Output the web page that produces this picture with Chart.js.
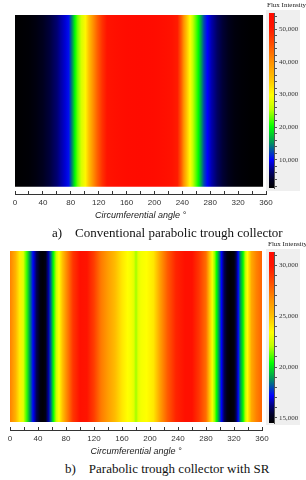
<!DOCTYPE html>
<html>
<head>
<meta charset="utf-8">
<script src="https://cdn.jsdelivr.net/npm/chart.js@4.4.1/dist/chart.umd.min.js"></script>
<style>
  body { margin: 0; background: #fff; width: 306px; height: 480px; position: relative; overflow: hidden; }
  canvas, .panel, .lbl { position: absolute; }
  .panel { background: #efefef; }
  .lbl { font-family: "Liberation Serif", serif; color: #222; white-space: pre; }
  .flux { font-size: 7px; }
  .cap { font-size: 13px; color: #111; }
</style>
</head>
<body>
<div class="panel" style="left:266px;top:10px;width:34px;height:181px"></div>
<div class="panel" style="left:266px;top:249px;width:34px;height:176px"></div>
<canvas id="heat1" style="left:0;top:0" width="306" height="225"></canvas>
<canvas id="bar1" style="left:266px;top:0" width="38" height="195"></canvas>
<canvas id="heat2" style="left:0;top:240px" width="306" height="221"></canvas>
<canvas id="bar2" style="left:266px;top:240px" width="38" height="190"></canvas>
<div class="lbl flux" style="left:267px;top:1px">Flux Intensity</div>
<div class="lbl flux" style="left:268px;top:240px">Flux Intensity</div>
<div class="lbl cap" style="left:52px;top:225px">a)    Conventional parabolic trough collector</div>
<div class="lbl cap" style="left:65px;top:461px">b)    Parabolic trough collector with SR</div>
<script>
// a) conventional collector: flux vs circumferential angle
let angles1 = [0, 10, 20, 30, 40, 50, 60, 66, 72, 77, 82, 86, 90, 95, 101, 106, 112, 118, 125, 132, 145, 160, 180, 200, 215, 225, 233, 238, 242, 246, 251, 255, 259, 263, 267, 271, 276, 282, 290, 298, 306, 315, 325, 340, 356];
let flux1 = [1500, 1600, 1800, 2500, 3500, 4800, 6500, 7800, 9000, 10500, 15000, 20000, 23500, 27000, 30500, 35000, 40000, 44000, 48000, 51000, 53000, 54000, 54500, 54000, 53000, 51500, 50000, 45000, 40000, 35000, 30000, 26000, 23000, 20000, 16000, 12500, 10000, 8000, 6000, 4500, 3200, 2300, 1800, 1500, 1500];

// b) collector with SR
let angles2 = [0, 8, 14, 19, 24, 28, 33, 38, 43, 47, 51, 55, 58, 62, 66, 70, 75, 80, 90, 100, 110, 120, 130, 140, 150, 160, 168, 173, 177, 180, 183, 187, 195, 205, 214, 225, 237, 250, 260, 270, 280, 285, 289, 292, 295, 299, 302, 306, 310, 315, 320, 323, 326, 329, 333, 336, 339, 345, 352, 360];
let flux2 = [27000, 25500, 23800, 22800, 20800, 19000, 17200, 15800, 14800, 14600, 15000, 16500, 18200, 20400, 22200, 23400, 25000, 26600, 29000, 30500, 30000, 28800, 27200, 26200, 25200, 24000, 23400, 23200, 22800, 21800, 22800, 23200, 23400, 24000, 26000, 28000, 29500, 30500, 30500, 29000, 27500, 25000, 23200, 21800, 20400, 18600, 17200, 15800, 14900, 14500, 14800, 15800, 17200, 18800, 20400, 22000, 23400, 25800, 27000, 27800];

let angleLabels = [0, 40, 80, 120, 160, 200, 240, 280, 320, 360];
let range1 = [1400, 55000];
let range2 = [14500, 31300];
let barLabels1 = [10000, 20000, 30000, 40000, 50000];
let barLabels2 = [15000, 20000, 25000, 30000];

// colour map (black -> blue -> green -> yellow -> red)
let cmap = [
    [0.00, [0, 0, 0]],
    [0.05, [0, 0, 40]],
    [0.10, [0, 0, 120]],
    [0.16, [0, 0, 255]],
    [0.26, [0, 150, 90]],
    [0.35, [0, 255, 0]],
    [0.45, [190, 255, 0]],
    [0.53, [255, 255, 0]],
    [0.62, [255, 195, 0]],
    [0.72, [255, 145, 0]],
    [0.82, [255, 80, 0]],
    [0.92, [255, 20, 0]],
    [1.00, [255, 10, 0]]
];

function colorAt(t) {
    t = Math.max(0, Math.min(1, t));
    for (let i = 1; i < cmap.length; i++) {
        if (t <= cmap[i][0]) {
            let a = cmap[i - 1], b = cmap[i];
            let f = (t - a[0]) / (b[0] - a[0]);
            let c = a[1].map((v, k) => Math.round(v + (b[1][k] - v) * f));
            return "rgb(" + c.join(",") + ")";
        }
    }
    return "rgb(255,10,0)";
}

function heatFill(angles, flux, range) {
    return function (ctx) {
        let chart = ctx.chart;
        let area = chart.chartArea;
        if (!area) return "rgba(0,0,0,0)";
        let x = chart.scales.x;
        let g = chart.ctx.createLinearGradient(area.left, 0, area.right, 0);
        angles.forEach((a, i) => {
            let off = (x.getPixelForValue(a) - area.left) / (area.right - area.left);
            g.addColorStop(Math.max(0, Math.min(1, off)), colorAt((flux[i] - range[0]) / (range[1] - range[0])));
        });
        return g;
    };
}

// tick list with minor steps between labelled values
function tickList(lo, hi, step) {
    let t = [];
    for (let v = Math.ceil(lo / step) * step; v <= hi; v += step) t.push({ value: v });
    return t;
}

function heatChart(id, angles, flux, range, pad, gap) {
    new Chart(id, {
        type: "line",
        data: {
            datasets: [{
                data: angles.map(a => ({ x: a, y: 1 })),
                fill: { value: gap },
                backgroundColor: heatFill(angles, flux, range),
                borderWidth: 0,
                pointRadius: 0,
                tension: 0
            }]
        },
        options: {
            animation: false,
            responsive: false,
            layout: { padding: pad },
            plugins: { legend: { display: false }, tooltip: { enabled: false } },
            scales: {
                y: { display: false, min: 0, max: 1 },
                x: {
                    type: "linear", min: 0, max: 360,
                    afterBuildTicks: s => { s.ticks = tickList(0, 360, 20); },
                    afterFit: s => { s.height = 31; },
                    border: { display: true, color: "#333", width: 1 },
                    grid: { drawOnChartArea: false, tickLength: -3, color: "#333" },
                    ticks: {
                        autoSkip: false, maxRotation: 0, padding: 7,
                        color: "#333", font: { family: "Liberation Sans", size: 8 },
                        callback: v => angleLabels.includes(v) ? String(v) : ""
                    },
                    title: {
                        display: true, text: "Circumferential angle °", color: "#222",
                        font: { family: "Liberation Sans", size: 9, style: "italic" },
                        padding: { top: 0, bottom: 4 }
                    }
                }
            }
        }
    });
}

function colorBar(id, range, step, labels, pad) {
    new Chart(id, {
        type: "bar",
        data: {
            labels: [""],
            datasets: [{
                data: [range],
                barPercentage: 1, categoryPercentage: 1,
                backgroundColor: ctx => {
                    let chart = ctx.chart;
                    if (!chart.chartArea) return "rgba(0,0,0,0)";
                    let y = chart.scales.y;
                    let g = chart.ctx.createLinearGradient(0, y.getPixelForValue(range[0]), 0, y.getPixelForValue(range[1]));
                    cmap.forEach(s => g.addColorStop(s[0], colorAt(s[0])));
                    return g;
                }
            }]
        },
        options: {
            animation: false,
            responsive: false,
            layout: { padding: pad },
            plugins: { legend: { display: false }, tooltip: { enabled: false } },
            scales: {
                x: { display: false },
                y: {
                    position: "right", min: range[0], max: range[1],
                    afterBuildTicks: s => { s.ticks = tickList(range[0], range[1], step); },
                    afterFit: s => { s.width = 30; },
                    border: { display: true, color: "#555" },
                    grid: { drawOnChartArea: false, tickLength: 3, color: "#555" },
                    ticks: {
                        autoSkip: false, padding: 2,
                        color: "#333", font: { family: "Liberation Serif", size: 7 },
                        callback: v => labels.includes(v) ? v.toLocaleString("en-US") : ""
                    }
                }
            }
        }
    });
}

heatChart("heat1", angles1, flux1, range1, { left: 15, right: 40, top: 15, bottom: 0 }, 0.04);
heatChart("heat2", angles2, flux2, range2, { left: 10, right: 44, top: 11, bottom: 0 }, 0.045);
colorBar("bar1", range1, 2000, barLabels1, { left: 3, top: 13, bottom: 7 });
colorBar("bar2", range2, 1000, barLabels2, { left: 3, top: 12, bottom: 7 });
</script>
</body>
</html>
